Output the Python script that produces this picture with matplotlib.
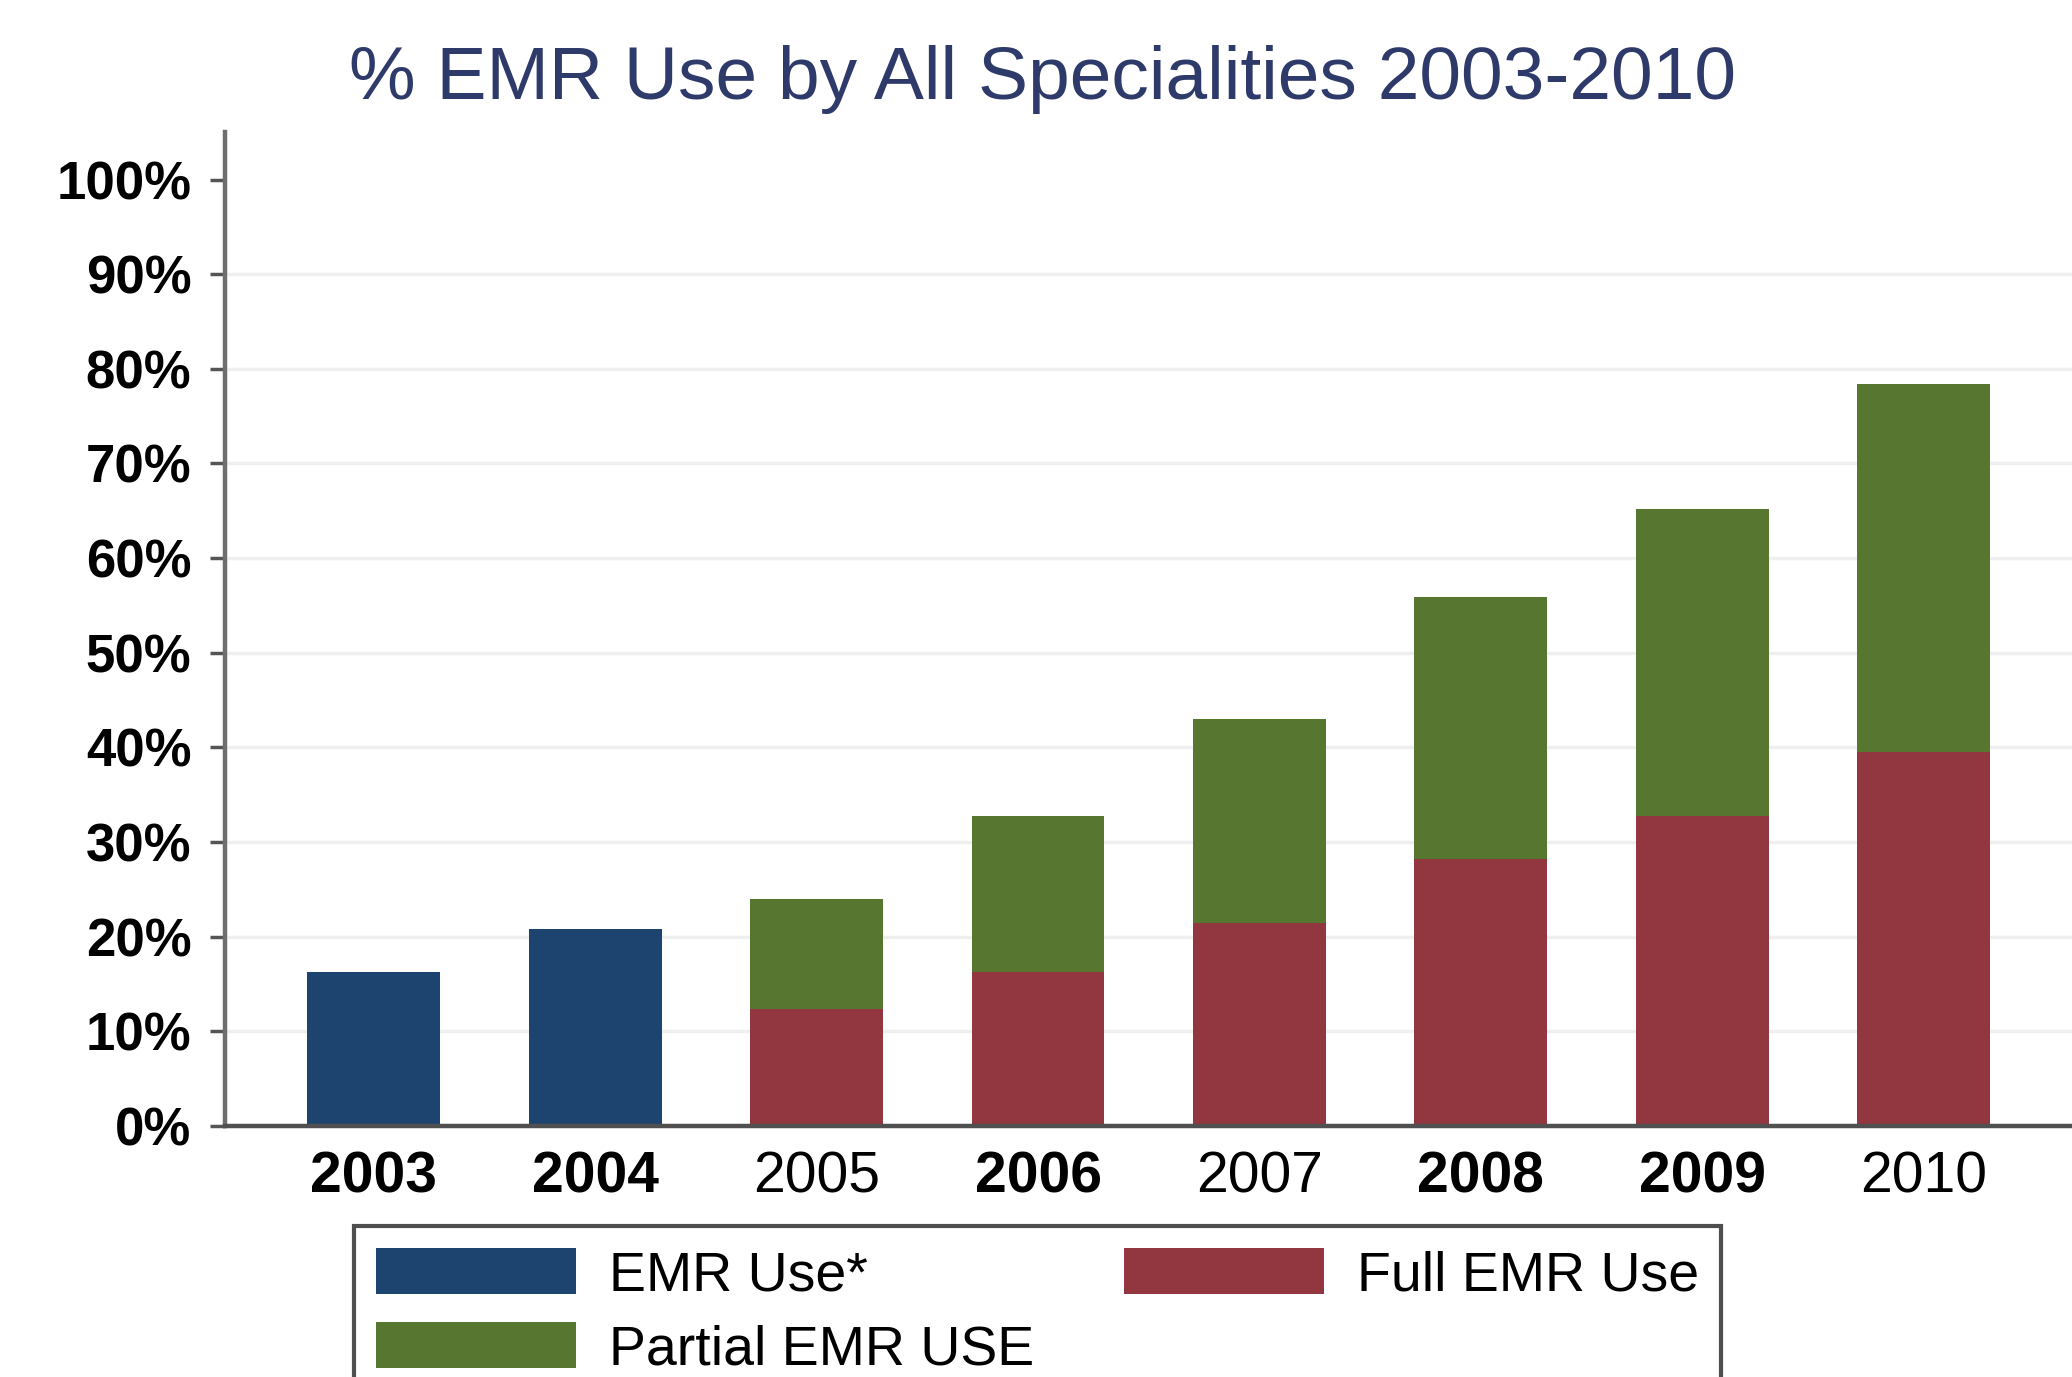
import matplotlib
matplotlib.use("Agg")
import matplotlib.pyplot as plt
import numpy as np

years = ["2003", "2004", "2005", "2006", "2007", "2008", "2009", "2010"]
emr_use = [16.3, 20.8, 0, 0, 0, 0, 0, 0]
full_emr = [0, 0, 12.4, 16.3, 21.4, 28.2, 32.8, 39.5]
partial_emr = [0, 0, 11.6, 16.4, 21.6, 27.7, 32.4, 38.9]
yticks = [0, 10, 20, 30, 40, 50, 60, 70, 80, 90, 100]
ytick_labels = [f"{v}%" for v in yticks]
legend_labels = ["EMR Use*", "Full EMR Use", "Partial EMR USE"]
title = "% EMR Use by All Specialities 2003-2010"

c_blue = "#1d446e"
c_red = "#923640"
c_green = "#577630"

plt.rcParams['font.family'] = ['Liberation Sans', 'DejaVu Sans']

fig = plt.figure(figsize=(20.72, 13.77), dpi=100)
ax = fig.add_axes([0.1084, 0.1823, 0.8916, 0.904 - 0.1823])

x = np.arange(len(years))
w = 0.6
emr_x = [i for i, v in enumerate(emr_use) if v > 0]
b1 = ax.bar([x[i] for i in emr_x], [emr_use[i] for i in emr_x], width=w, color=c_blue, zorder=3)
st_x = [i for i, v in enumerate(full_emr) if v > 0]
b2 = ax.bar([x[i] for i in st_x], [full_emr[i] for i in st_x], width=w, color=c_red, zorder=3)
b3 = ax.bar([x[i] for i in st_x], [partial_emr[i] for i in st_x], width=w,
            bottom=[full_emr[i] for i in st_x], color=c_green, zorder=3)

ax.set_xlim(-0.674, 7.67)
ax.set_ylim(0, 105)
ax.set_yticks(yticks)
ax.set_yticklabels(ytick_labels, fontsize=38, fontweight='bold')
ax.set_xticks(x)
ax.set_xticklabels(years, fontsize=41)
weights = ['bold', 'bold', 'normal', 'bold', 'normal', 'bold', 'bold', 'normal']
for lab, wt in zip(ax.get_xticklabels(), weights):
    lab.set_fontweight(wt)

for v in yticks[1:-1]:
    ax.axhline(v, color="#eef0f0", lw=2.5, zorder=1)

ax.spines['top'].set_visible(False)
ax.spines['right'].set_visible(False)
ax.spines['left'].set_color('#6e6e6e')
ax.spines['left'].set_linewidth(3.2)
ax.spines['bottom'].set_color('#505050')
ax.spines['bottom'].set_linewidth(3.2)
ax.spines['bottom'].set_zorder(4)
ax.tick_params(axis='y', length=11, width=2.5, color='#555555', pad=13)
ax.tick_params(axis='x', length=0, pad=18)

fig.text(0.503, 0.942, title, ha='center', va='center', fontsize=54, color='#2e3a6a')

leg = fig.legend([b1, b3, b2], ["EMR Use*", "Partial EMR USE", "Full EMR Use"],
                 ncol=2, loc='upper left', bbox_to_anchor=(0.1708, 0.1097),
                 fontsize=40, frameon=True, fancybox=False, edgecolor='#222222',
                 handlelength=3.6, handleheight=0.9, handletextpad=0.6,
                 columnspacing=1.6, labelspacing=0.35, borderpad=0.4,
                 borderaxespad=0)
leg.get_frame().set_linewidth(3)

fig.savefig("out.png", dpi=100)
